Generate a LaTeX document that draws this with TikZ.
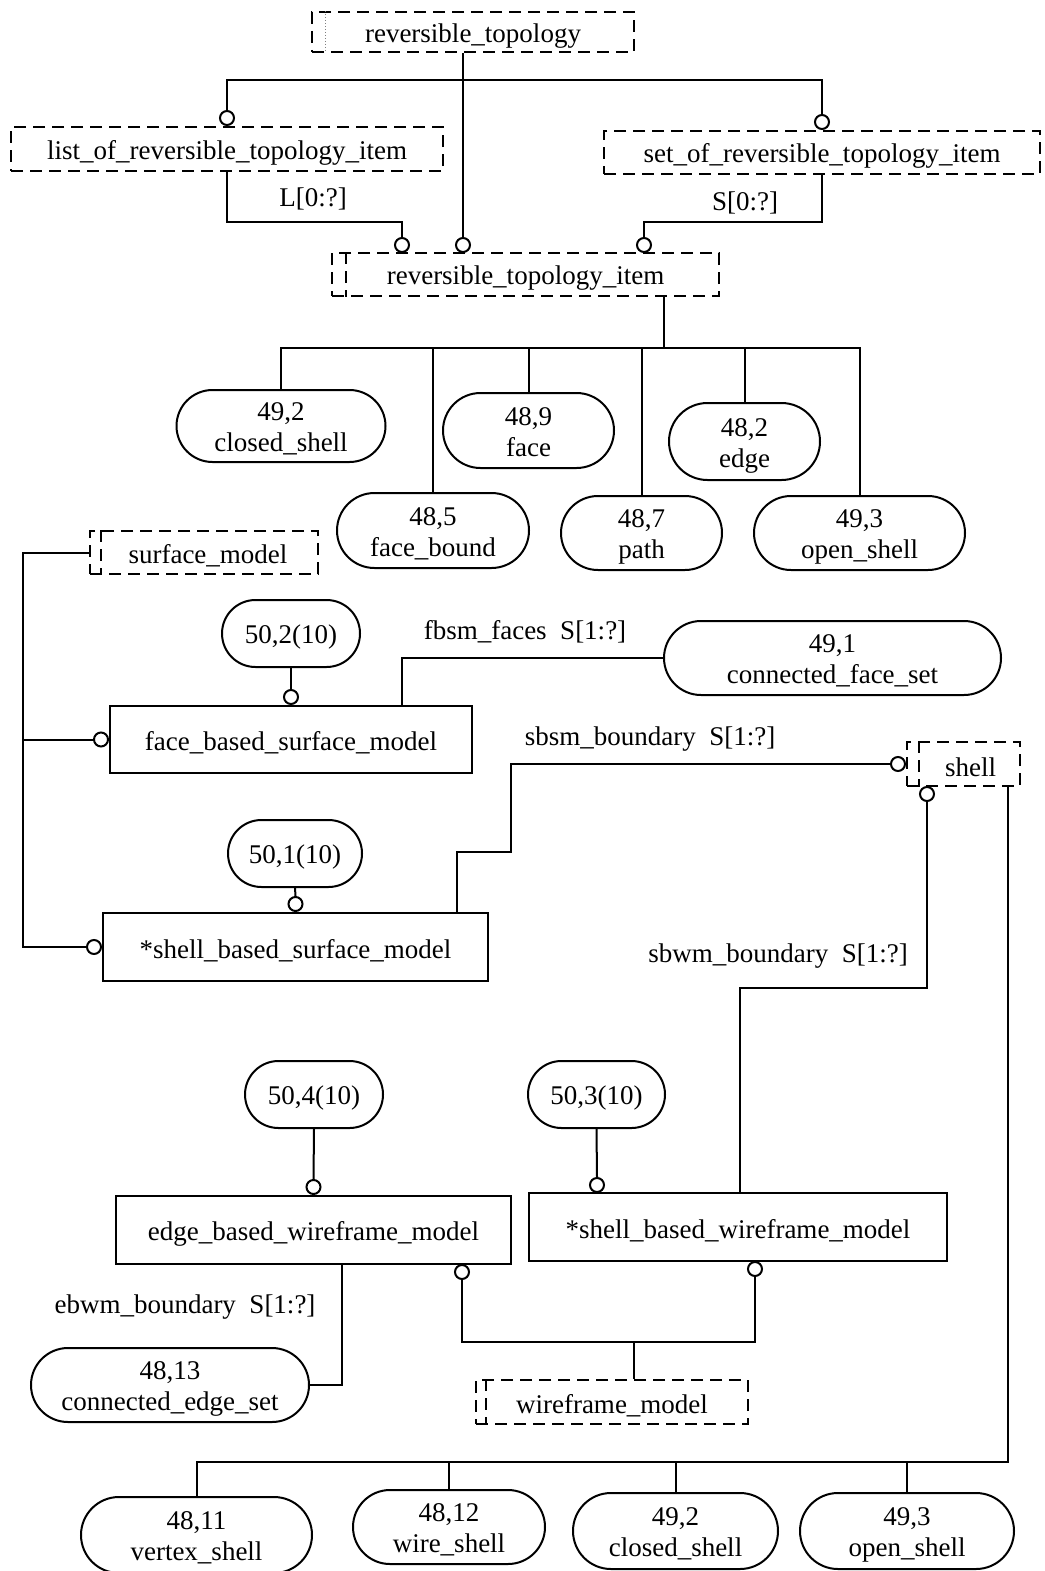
\documentclass[tikz,border=0pt]{standalone}
\usepackage{fontspec}
\setmainfont{Liberation Serif}
\usetikzlibrary{shapes.misc}

\newcommand{\lowstrut}{\rule{0pt}{26pt}}
\newcommand{\refpair}[2]{\raisebox{-4pt}[\height][\depth]{\begin{tabular}{@{}c@{}}#1\\#2\end{tabular}}}
\tikzset{
  ent/.style={draw,rectangle,inner sep=0pt,execute at begin node=\lowstrut},
  seltype/.style={draw,rectangle,dash pattern=on 12pt off 7pt,inner sep=0pt,execute at begin node=\lowstrut},
  pageref/.style={draw,rounded rectangle,inner sep=0pt},
  ring/.style={draw,circle,fill=white,minimum size=14pt,inner sep=0pt},
  lbl/.style={inner sep=1pt},
}

\begin{document}
\begin{tikzpicture}[x=1pt,y=-1pt,line width=2pt,font=\fontsize{27}{31}\selectfont]
\path[use as bounding box] (0,0) rectangle (1044,1571);

% top: select types
\node[seltype,minimum width=322,minimum height=40] (rt) at (473,32) {reversible\_topology};
\draw[gray,line width=1pt,dotted] ([xshift=14]rt.north west) -- ([xshift=14]rt.south west);
\node[seltype,minimum width=432,minimum height=44] (list) at (227,149) {list\_of\_reversible\_topology\_item};
\node[seltype,minimum width=436,minimum height=43] (set) at (822,152.5) {set\_of\_reversible\_topology\_item};
\node[seltype,minimum width=387,minimum height=43] (rti) at (525.5,274.5) {reversible\_topology\_item};
\draw[dash pattern=on 12pt off 7pt] ([xshift=15]rti.north west) -- ([xshift=15]rti.south west);

\node[ring,anchor=south] (oList) at (list.north) {};
\node[ring,anchor=south] (oSet) at (set.north) {};
\node[ring,anchor=south] (oRti1) at (402,253) {};
\node[ring,anchor=south] (oRti2) at (463,253) {};
\node[ring,anchor=south] (oRti3) at (644,253) {};

\draw (rt.south -| oRti2) -- (oRti2.north);
\draw (oList.north) -- (oList |- 0,80) -- (oSet |- 0,80) -- (oSet.north);
\draw (list.south) -- (list.south |- 0,222) -| (oRti1.north);
\draw (set.south) -- (set.south |- 0,222) -| (oRti3.north);
\node[lbl] (lblL) at (313,199) {L[0:?]};
\node[lbl] (lblS) at (745,203) {S[0:?]};

% reversible_topology_item choices
\node[pageref,minimum width=209,minimum height=72] (cs1) at (281,426) {\refpair{49,2}{closed\_shell}};
\node[pageref,minimum width=171,minimum height=75] (f1) at (528.5,430.5) {\refpair{48,9}{face}};
\node[pageref,minimum width=151,minimum height=77] (e1) at (744.5,441.5) {\refpair{48,2}{edge}};
\node[pageref,minimum width=192,minimum height=75] (fb1) at (433,530.5) {\refpair{48,5}{face\_bound}};
\node[pageref,minimum width=161,minimum height=74] (p1) at (641.5,533) {\refpair{48,7}{path}};
\node[pageref,minimum width=211,minimum height=74] (os1) at (859.5,533) {\refpair{49,3}{open\_shell}};
\coordinate (hub1) at (664,348);
\draw (rti.south -| hub1) -- (hub1);
\draw (cs1.north) -- (cs1.north |- hub1) -- (os1.north |- hub1) -- (os1.north);
\foreach \n in {fb1,f1,p1,e1}
  \draw (\n.north) -- (\n.north |- hub1);

% surface models
\node[seltype,minimum width=228,minimum height=43] (sm) at (204,552.5) {\hspace{8pt}surface\_model};
\draw[dash pattern=on 12pt off 7pt] ([xshift=12]sm.north west) -- ([xshift=12]sm.south west);
\node[pageref,minimum width=138,minimum height=67,execute at begin node=\lowstrut] (p502) at (291,633.5) {50,2(10)};
\node[ent,minimum width=362,minimum height=67] (fbsm) at (291,739.5) {face\_based\_surface\_model};
\node[pageref,minimum width=337,minimum height=74] (cfs) at (832.5,658) {\refpair{49,1}{connected\_face\_set}};
\node[pageref,minimum width=134,minimum height=67,execute at begin node=\lowstrut] (p501) at (295,853.5) {50,1(10)};
\node[ent,minimum width=385,minimum height=68] (sbsm) at (295.5,947) {*shell\_based\_surface\_model};
\node[seltype,minimum width=113,minimum height=44] (shell) at (963.5,764) {\hspace{14pt}shell};
\draw[dash pattern=on 12pt off 7pt] ([xshift=13]shell.north west) -- ([xshift=13]shell.south west);

\node[ring,anchor=south] (o502) at (fbsm.north) {};
\node[ring,anchor=south] (o501) at (sbsm.north) {};
\node[ring,anchor=east] (oSm1) at (fbsm.west) {};
\node[ring,anchor=east] (oSm2) at (sbsm.west) {};
\node[ring,anchor=east] (oShellL) at (shell.west) {};
\node[ring,anchor=north] (oShellB) at (927,786) {};

\coordinate (smrail) at (23,0);
\draw (sm.west) -| (smrail |- oSm2.west) -- (oSm2.west);
\draw (smrail |- oSm1.west) -- (oSm1.west);
\draw (p502.south) -- (o502.north);
\draw (p501.south) -- (o501.north);
\draw (fbsm.north -| 402,0) |- (cfs.west);
\node[lbl] (lblFaces) at (525,632) {fbsm\_faces\enspace S[1:?]};
\draw (sbsm.north -| 457,0) |- (511,852) |- (oShellL.west);
\node[lbl] (lblSbsm) at (650,739) {sbsm\_boundary\enspace S[1:?]};

% wireframe models
\node[pageref,minimum width=138,minimum height=67,execute at begin node=\lowstrut] (p504) at (314,1094.5) {50,4(10)};
\node[pageref,minimum width=137,minimum height=67,execute at begin node=\lowstrut] (p503) at (596.5,1094.5) {50,3(10)};
\node[ent,minimum width=395,minimum height=68] (ebwm) at (313.5,1230) {edge\_based\_wireframe\_model};
\node[ent,minimum width=418,minimum height=68] (sbwm) at (738,1227) {*shell\_based\_wireframe\_model};
\node[pageref,minimum width=278,minimum height=74] (ces) at (170,1385) {\refpair{48,13}{connected\_edge\_set}};
\node[seltype,minimum width=272,minimum height=44] (wm) at (612,1402) {wireframe\_model};
\draw[dash pattern=on 12pt off 7pt] ([xshift=11]wm.north west) -- ([xshift=11]wm.south west);

\node[ring,anchor=south] (o504) at (ebwm.north) {};
\node[ring,anchor=south] (o503) at (597,1193) {};
\node[ring,anchor=north] (oEb) at (462,1264) {};
\node[ring,anchor=north] (oSb) at (755,1261) {};

\draw (p504.south) -- (o504.north);
\draw (p503.south) -- (o503.north);
\draw (oShellB.south) |- (740,988) -- (sbwm.north -| 740,0);
\node[lbl] (lblSbwm) at (778,956) {sbwm\_boundary\enspace S[1:?]};
\coordinate (hub3) at (634,1342);
\draw (oEb.south) |- (hub3) -| (oSb.south);
\draw (hub3) -- (wm.north -| hub3);
\draw (ebwm.south -| 342,0) |- (ces.east);
\node[lbl] (lblEbwm) at (185,1307) {ebwm\_boundary\enspace S[1:?]};

% shell choices
\node[pageref,minimum width=231,minimum height=76] (vs) at (196.5,1535) {\refpair{48,11}{vertex\_shell}};
\node[pageref,minimum width=192,minimum height=74] (ws) at (449,1527) {\refpair{48,12}{wire\_shell}};
\node[pageref,minimum width=205,minimum height=76] (cs2) at (675.5,1531) {\refpair{49,2}{closed\_shell}};
\node[pageref,minimum width=214,minimum height=76] (os2) at (907,1531) {\refpair{49,3}{open\_shell}};
\coordinate (hub2) at (1008,1462);
\draw (shell.south -| hub2) -- (hub2) -- (vs.north |- hub2) -- (vs.north);
\foreach \n in {ws,cs2,os2}
  \draw (\n.north) -- (\n.north |- hub2);
\end{tikzpicture}
\end{document}
